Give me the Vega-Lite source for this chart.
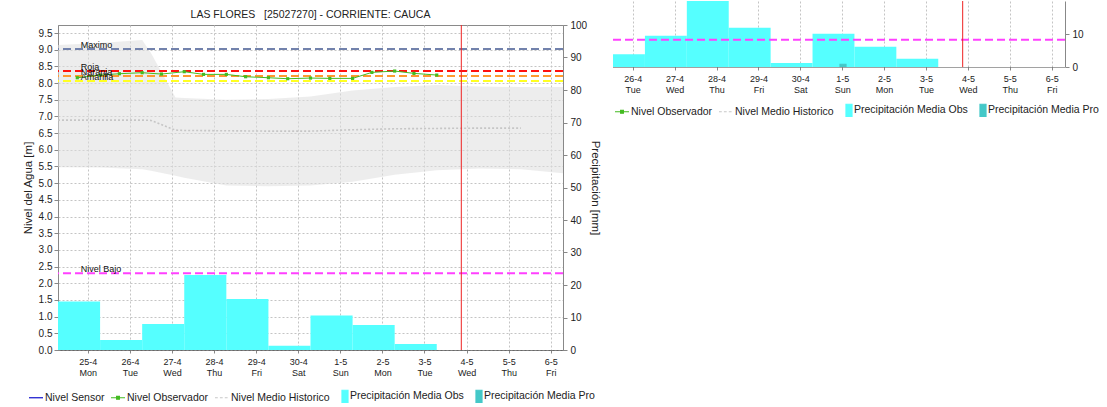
{
  "$schema": "https://vega.github.io/schema/vega-lite/v6.json",
  "padding": {"left": 21, "top": 0, "right": 0, "bottom": 0},
  "spacing": 10,
  "config": {
    "font": "Liberation Sans",
    "view": {"stroke": "#8a8a8a", "strokeWidth": 1},
    "axis": {"labelFont": "Liberation Sans", "titleFont": "Liberation Sans", "labelColor": "#222", "titleColor": "#222", "titleFontWeight": "normal", "tickColor": "#888", "domainColor": "#888", "gridColor": "#c4c4c4", "gridDash": [2, 2], "gridWidth": 1},
    "legend": {"labelFont": "Liberation Sans", "labelFontSize": 10.5, "labelColor": "#222", "padding": 0},
    "text": {"font": "Liberation Sans"}
  },
  "datasets": {
    "precip": [
      {"inicio": "2022-04-24T07:00:00Z", "fin": "2022-04-25T07:00:00Z", "mm": 14.9},
      {"inicio": "2022-04-25T07:00:00Z", "fin": "2022-04-26T07:00:00Z", "mm": 3.1},
      {"inicio": "2022-04-26T07:00:00Z", "fin": "2022-04-27T07:00:00Z", "mm": 8.0},
      {"inicio": "2022-04-27T07:00:00Z", "fin": "2022-04-28T07:00:00Z", "mm": 23.1},
      {"inicio": "2022-04-28T07:00:00Z", "fin": "2022-04-29T07:00:00Z", "mm": 15.7},
      {"inicio": "2022-04-29T07:00:00Z", "fin": "2022-04-30T07:00:00Z", "mm": 1.3},
      {"inicio": "2022-04-30T07:00:00Z", "fin": "2022-05-01T07:00:00Z", "mm": 10.6},
      {"inicio": "2022-05-01T07:00:00Z", "fin": "2022-05-02T07:00:00Z", "mm": 7.7},
      {"inicio": "2022-05-02T07:00:00Z", "fin": "2022-05-03T07:00:00Z", "mm": 1.85}
    ],
    "banda": [
      {"tiempo": "2022-04-24T07:00:00Z", "minimo": 5.48, "maximo": 9.14, "medio": 6.89},
      {"tiempo": "2022-04-25T07:00:00Z", "minimo": 5.47, "maximo": 9.2, "medio": 6.89},
      {"tiempo": "2022-04-26T07:00:00Z", "minimo": 5.42, "maximo": 9.29, "medio": 6.89},
      {"tiempo": "2022-04-26T12:00:00Z", "minimo": 5.37, "maximo": 8.9, "medio": 6.88},
      {"tiempo": "2022-04-27T02:00:00Z", "minimo": 5.22, "maximo": 7.57, "medio": 6.59},
      {"tiempo": "2022-04-27T07:00:00Z", "minimo": 5.16, "maximo": 7.55, "medio": 6.58},
      {"tiempo": "2022-04-28T07:00:00Z", "minimo": 4.93, "maximo": 7.5, "medio": 6.57},
      {"tiempo": "2022-04-29T07:00:00Z", "minimo": 4.91, "maximo": 7.52, "medio": 6.56},
      {"tiempo": "2022-04-30T07:00:00Z", "minimo": 4.93, "maximo": 7.6, "medio": 6.56},
      {"tiempo": "2022-05-01T07:00:00Z", "minimo": 5.04, "maximo": 7.78, "medio": 6.6},
      {"tiempo": "2022-05-02T07:00:00Z", "minimo": 5.25, "maximo": 7.88, "medio": 6.63},
      {"tiempo": "2022-05-03T07:00:00Z", "minimo": 5.39, "maximo": 7.94, "medio": 6.64},
      {"tiempo": "2022-05-04T07:00:00Z", "minimo": 5.44, "maximo": 7.9, "medio": 6.65},
      {"tiempo": "2022-05-05T07:00:00Z", "minimo": 5.42, "maximo": 7.88, "medio": 6.65},
      {"tiempo": "2022-05-06T07:00:00Z", "minimo": 5.3, "maximo": 7.88}
    ],
    "observador": [
      {"tiempo": "2022-04-24T18:00:00Z", "nivel": 8.16},
      {"tiempo": "2022-04-25T07:00:00Z", "nivel": 8.24},
      {"tiempo": "2022-04-25T18:00:00Z", "nivel": 8.28},
      {"tiempo": "2022-04-26T07:00:00Z", "nivel": 8.31},
      {"tiempo": "2022-04-26T18:00:00Z", "nivel": 8.27},
      {"tiempo": "2022-04-27T07:00:00Z", "nivel": 8.34},
      {"tiempo": "2022-04-27T18:00:00Z", "nivel": 8.26},
      {"tiempo": "2022-04-28T07:00:00Z", "nivel": 8.26},
      {"tiempo": "2022-04-28T18:00:00Z", "nivel": 8.19},
      {"tiempo": "2022-04-29T07:00:00Z", "nivel": 8.16},
      {"tiempo": "2022-04-29T18:00:00Z", "nivel": 8.13},
      {"tiempo": "2022-04-30T07:00:00Z", "nivel": 8.15},
      {"tiempo": "2022-04-30T18:00:00Z", "nivel": 8.14},
      {"tiempo": "2022-05-01T07:00:00Z", "nivel": 8.14},
      {"tiempo": "2022-05-01T18:00:00Z", "nivel": 8.32},
      {"tiempo": "2022-05-02T07:00:00Z", "nivel": 8.36},
      {"tiempo": "2022-05-02T18:00:00Z", "nivel": 8.29},
      {"tiempo": "2022-05-03T07:00:00Z", "nivel": 8.24}
    ],
    "umbrales": [
      {"nivel": "Maximo", "valor": 9.02},
      {"nivel": "Roja", "valor": 8.36},
      {"nivel": "Naranja", "valor": 8.21},
      {"nivel": "Amarilla", "valor": 8.06},
      {"nivel": "Nivel Bajo", "valor": 2.3}
    ],
    "ahora": [{"tiempo": "2022-05-03T21:00:00Z"}],
    "leyenda1": [
      {"serie": "Nivel Sensor"},
      {"serie": "Nivel Observador"},
      {"serie": "Nivel Medio Historico"},
      {"serie": "Precipitación Media Obs"},
      {"serie": "Precipitación Media Pro"}
    ],
    "precip2": [
      {"inicio": "2022-04-25T07:00:00Z", "fin": "2022-04-26T07:00:00Z", "mm": 3.9},
      {"inicio": "2022-04-26T07:00:00Z", "fin": "2022-04-27T07:00:00Z", "mm": 9.6},
      {"inicio": "2022-04-27T07:00:00Z", "fin": "2022-04-28T07:00:00Z", "mm": 24.0},
      {"inicio": "2022-04-28T07:00:00Z", "fin": "2022-04-29T07:00:00Z", "mm": 12.0},
      {"inicio": "2022-04-29T07:00:00Z", "fin": "2022-04-30T07:00:00Z", "mm": 1.2},
      {"inicio": "2022-04-30T07:00:00Z", "fin": "2022-05-01T07:00:00Z", "mm": 10.2},
      {"inicio": "2022-05-01T07:00:00Z", "fin": "2022-05-02T07:00:00Z", "mm": 6.2},
      {"inicio": "2022-05-02T07:00:00Z", "fin": "2022-05-03T07:00:00Z", "mm": 2.5}
    ],
    "bajo2": [{"nivel": "Nivel Bajo", "valor": 8.35}],
    "leyenda2": [
      {"serie": "Nivel Observador"},
      {"serie": "Nivel Medio Historico"},
      {"serie": "Precipitación Media Obs"},
      {"serie": "Precipitación Media Pro"}
    ]
  },
  "resolve": {"scale": {"color": "independent", "stroke": "independent", "shape": "independent"}},
  "hconcat": [
    {
      "spacing": 0,
      "resolve": {"scale": {"color": "independent", "stroke": "independent", "shape": "independent"}},
      "vconcat": [
        {
          "width": 1,
          "height": 0.001,
          "view": {"stroke": null},
          "data": {"values": []},
          "mark": "point",
          "encoding": {}
        },
        {
          "width": 505,
          "height": 325,
          "title": {"text": ["", "LAS FLORES\u00a0\u00a0 [25027270] - CORRIENTE: CAUCA"], "fontSize": 10.5, "fontWeight": "normal", "font": "Liberation Sans", "color": "#222", "lineHeight": 7, "frame": "group", "anchor": "middle", "offset": -10, "baseline": "bottom"},
          "resolve": {"scale": {"y": "independent"}},
          "layer": [
            {
              "data": {"name": "precip"},
              "mark": {"type": "rect", "color": "#55ffff"},
              "encoding": {
                "x": {"field": "inicio", "type": "temporal", "title": null, "scale": {"type": "utc", "domain": [{"year": 2022, "month": 4, "date": 24, "hours": 7, "utc": true}, {"year": 2022, "month": 5, "date": 6, "hours": 7, "utc": true}]},
                  "axis": {"orient": "bottom", "title": null, "values": [
                    {"year": 2022, "month": 4, "date": 25, "utc": true}, {"year": 2022, "month": 4, "date": 26, "utc": true}, {"year": 2022, "month": 4, "date": 27, "utc": true}, {"year": 2022, "month": 4, "date": 28, "utc": true}, {"year": 2022, "month": 4, "date": 29, "utc": true}, {"year": 2022, "month": 4, "date": 30, "utc": true}, {"year": 2022, "month": 5, "date": 1, "utc": true}, {"year": 2022, "month": 5, "date": 2, "utc": true}, {"year": 2022, "month": 5, "date": 3, "utc": true}, {"year": 2022, "month": 5, "date": 4, "utc": true}, {"year": 2022, "month": 5, "date": 5, "utc": true}, {"year": 2022, "month": 5, "date": 6, "utc": true}],
                    "labelExpr": "[utcFormat(datum.value, '%-d-%-m'), utcFormat(datum.value, '%a')]", "labelFontSize": 9, "labelLineHeight": 11, "labelAngle": 0, "labelFlush": false, "labelOverlap": false, "tickSize": 3, "labelPadding": 4, "grid": true, "domainDash": [1, 1], "domainColor": "#444"}},
                "x2": {"field": "fin"},
                "y": {"field": "mm", "type": "quantitative", "title": "Precipitación [mm]", "scale": {"domain": [0, 100], "nice": false},
                  "axis": {"orient": "right", "values": [0, 10, 20, 30, 40, 50, 60, 70, 80, 90, 100], "labelFontSize": 10, "tickSize": 4, "labelPadding": 3, "grid": false, "titleFontSize": 11.5, "titleAngle": 90, "titlePadding": 3}},
                "y2": {"datum": 0}
              }
            },
            {
              "layer": [
                {
                  "data": {"name": "banda"},
                  "mark": {"type": "area", "color": "#dedede", "opacity": 0.55},
                  "encoding": {
                    "x": {"field": "tiempo", "type": "temporal", "title": null, "scale": {"type": "utc"}},
                    "y": {"field": "minimo", "type": "quantitative", "title": "Nivel del Agua [m]", "scale": {"domain": [0, 9.74], "nice": false},
                      "axis": {"orient": "left", "values": [0, 0.5, 1, 1.5, 2, 2.5, 3, 3.5, 4, 4.5, 5, 5.5, 6, 6.5, 7, 7.5, 8, 8.5, 9, 9.5], "format": ".1f", "labelFontSize": 10, "labelOverlap": false, "tickSize": 4, "labelPadding": 2, "grid": true, "titleFontSize": 11.5, "titlePadding": 5}},
                    "y2": {"field": "maximo", "title": "Nivel del Agua [m]"}
                  }
                },
                {
                  "data": {"name": "banda"},
                  "mark": {"type": "line", "color": "#c6c6c6", "strokeWidth": 1.6, "strokeDash": [2, 2]},
                  "encoding": {
                    "x": {"field": "tiempo", "type": "temporal", "title": null, "scale": {"type": "utc"}},
                    "y": {"field": "medio", "type": "quantitative", "title": "Nivel del Agua [m]", "scale": {"domain": [0, 9.74], "nice": false},
                      "axis": {"orient": "left", "values": [0, 0.5, 1, 1.5, 2, 2.5, 3, 3.5, 4, 4.5, 5, 5.5, 6, 6.5, 7, 7.5, 8, 8.5, 9, 9.5], "format": ".1f", "labelFontSize": 10, "labelOverlap": false, "tickSize": 4, "labelPadding": 2, "grid": true, "titleFontSize": 11.5, "titlePadding": 5}}
                  }
                },
                {
                  "data": {"name": "umbrales"},
                  "transform": [{"filter": "datum.nivel == 'Maximo'"}],
                  "mark": {"type": "rule", "color": "#7282ac", "strokeWidth": 2, "strokeDash": [8, 4]},
                  "encoding": {"y": {"field": "valor", "type": "quantitative", "title": "Nivel del Agua [m]", "scale": {"domain": [0, 9.74], "nice": false},
                      "axis": {"orient": "left", "values": [0, 0.5, 1, 1.5, 2, 2.5, 3, 3.5, 4, 4.5, 5, 5.5, 6, 6.5, 7, 7.5, 8, 8.5, 9, 9.5], "format": ".1f", "labelFontSize": 10, "labelOverlap": false, "tickSize": 4, "labelPadding": 2, "grid": true, "titleFontSize": 11.5, "titlePadding": 5}}}
                },
                {
                  "data": {"name": "umbrales"},
                  "transform": [{"filter": "datum.nivel == 'Amarilla'"}],
                  "mark": {"type": "rule", "color": "#ffff22", "strokeWidth": 2, "strokeDash": [8, 4]},
                  "encoding": {"y": {"field": "valor", "type": "quantitative", "title": "Nivel del Agua [m]", "scale": {"domain": [0, 9.74], "nice": false},
                      "axis": {"orient": "left", "values": [0, 0.5, 1, 1.5, 2, 2.5, 3, 3.5, 4, 4.5, 5, 5.5, 6, 6.5, 7, 7.5, 8, 8.5, 9, 9.5], "format": ".1f", "labelFontSize": 10, "labelOverlap": false, "tickSize": 4, "labelPadding": 2, "grid": true, "titleFontSize": 11.5, "titlePadding": 5}}}
                },
                {
                  "data": {"name": "umbrales"},
                  "transform": [{"filter": "datum.nivel == 'Naranja'"}],
                  "mark": {"type": "rule", "color": "#ff9a30", "strokeWidth": 2, "strokeDash": [8, 4]},
                  "encoding": {"y": {"field": "valor", "type": "quantitative", "title": "Nivel del Agua [m]", "scale": {"domain": [0, 9.74], "nice": false},
                      "axis": {"orient": "left", "values": [0, 0.5, 1, 1.5, 2, 2.5, 3, 3.5, 4, 4.5, 5, 5.5, 6, 6.5, 7, 7.5, 8, 8.5, 9, 9.5], "format": ".1f", "labelFontSize": 10, "labelOverlap": false, "tickSize": 4, "labelPadding": 2, "grid": true, "titleFontSize": 11.5, "titlePadding": 5}}}
                },
                {
                  "data": {"name": "umbrales"},
                  "transform": [{"filter": "datum.nivel == 'Roja'"}],
                  "mark": {"type": "rule", "color": "#ff1010", "strokeWidth": 2, "strokeDash": [8, 4]},
                  "encoding": {"y": {"field": "valor", "type": "quantitative", "title": "Nivel del Agua [m]", "scale": {"domain": [0, 9.74], "nice": false},
                      "axis": {"orient": "left", "values": [0, 0.5, 1, 1.5, 2, 2.5, 3, 3.5, 4, 4.5, 5, 5.5, 6, 6.5, 7, 7.5, 8, 8.5, 9, 9.5], "format": ".1f", "labelFontSize": 10, "labelOverlap": false, "tickSize": 4, "labelPadding": 2, "grid": true, "titleFontSize": 11.5, "titlePadding": 5}}}
                },
                {
                  "data": {"name": "umbrales"},
                  "transform": [{"filter": "datum.nivel == 'Nivel Bajo'"}],
                  "mark": {"type": "rule", "color": "#ff40ff", "strokeWidth": 2, "strokeDash": [8, 4]},
                  "encoding": {"y": {"field": "valor", "type": "quantitative", "title": "Nivel del Agua [m]", "scale": {"domain": [0, 9.74], "nice": false},
                      "axis": {"orient": "left", "values": [0, 0.5, 1, 1.5, 2, 2.5, 3, 3.5, 4, 4.5, 5, 5.5, 6, 6.5, 7, 7.5, 8, 8.5, 9, 9.5], "format": ".1f", "labelFontSize": 10, "labelOverlap": false, "tickSize": 4, "labelPadding": 2, "grid": true, "titleFontSize": 11.5, "titlePadding": 5}}}
                },
                {
                  "data": {"name": "observador"},
                  "mark": {"type": "line", "color": "#44bb22", "strokeWidth": 1, "point": {"filled": true, "shape": "square", "size": 10, "color": "#44bb22"}},
                  "encoding": {
                    "x": {"field": "tiempo", "type": "temporal", "title": null, "scale": {"type": "utc"}},
                    "y": {"field": "nivel", "type": "quantitative", "title": "Nivel del Agua [m]", "scale": {"domain": [0, 9.74], "nice": false},
                      "axis": {"orient": "left", "values": [0, 0.5, 1, 1.5, 2, 2.5, 3, 3.5, 4, 4.5, 5, 5.5, 6, 6.5, 7, 7.5, 8, 8.5, 9, 9.5], "format": ".1f", "labelFontSize": 10, "labelOverlap": false, "tickSize": 4, "labelPadding": 2, "grid": true, "titleFontSize": 11.5, "titlePadding": 5}}
                  }
                },
                {
                  "data": {"name": "umbrales"},
                  "mark": {"type": "text", "align": "left", "baseline": "alphabetic", "dy": -1.5, "fontSize": 9, "color": "#111"},
                  "encoding": {
                    "x": {"datum": {"year": 2022, "month": 4, "date": 24, "hours": 20, "utc": true}, "type": "temporal", "title": null, "scale": {"type": "utc"}},
                    "y": {"field": "valor", "type": "quantitative", "title": "Nivel del Agua [m]", "scale": {"domain": [0, 9.74], "nice": false},
                      "axis": {"orient": "left", "values": [0, 0.5, 1, 1.5, 2, 2.5, 3, 3.5, 4, 4.5, 5, 5.5, 6, 6.5, 7, 7.5, 8, 8.5, 9, 9.5], "format": ".1f", "labelFontSize": 10, "labelOverlap": false, "tickSize": 4, "labelPadding": 2, "grid": true, "titleFontSize": 11.5, "titlePadding": 5}},
                    "text": {"field": "nivel"}
                  }
                },
                {
                  "data": {"name": "ahora"},
                  "mark": {"type": "rule", "color": "#ee2222", "strokeWidth": 1},
                  "encoding": {"x": {"field": "tiempo", "type": "temporal", "title": null, "scale": {"type": "utc"}}}
                },
                {
                  "data": {"name": "leyenda1"},
                  "mark": {"type": "point", "filled": true, "clip": true, "size": 196, "strokeWidth": 1.2, "opacity": 1},
                  "encoding": {
                    "y": {"datum": -1, "type": "quantitative", "title": "Nivel del Agua [m]", "scale": {"domain": [0, 9.74], "nice": false},
                      "axis": {"orient": "left", "values": [0, 0.5, 1, 1.5, 2, 2.5, 3, 3.5, 4, 4.5, 5, 5.5, 6, 6.5, 7, 7.5, 8, 8.5, 9, 9.5], "format": ".1f", "labelFontSize": 10, "labelOverlap": false, "tickSize": 4, "labelPadding": 2, "grid": true, "titleFontSize": 11.5, "titlePadding": 5}},
                    "color": {"field": "serie", "type": "nominal", "title": null,
                      "scale": {"domain": ["Nivel Sensor", "Nivel Observador", "Nivel Medio Historico", "Precipitación Media Obs", "Precipitación Media Pro"], "range": ["#1010cc", "#44bb22", "#c8c8c8", "#55ffff", "#44c8c8"]},
                      "legend": {"orient": "none", "legendX": -30, "legendY": 363, "direction": "horizontal", "title": null, "symbolSize": 196, "symbolStrokeWidth": 1.2, "labelOffset": 1, "columnPadding": 3, "labelFontSize": 10.5}},
                    "stroke": {"field": "serie", "type": "nominal", "title": null,
                      "scale": {"domain": ["Nivel Sensor", "Nivel Observador", "Nivel Medio Historico", "Precipitación Media Obs", "Precipitación Media Pro"], "range": ["#1010cc", "#44bb22", "#c8c8c8", "#55ffff", "#44c8c8"]},
                      "legend": {"orient": "none", "legendX": -30, "legendY": 363, "direction": "horizontal", "title": null, "symbolSize": 196, "symbolStrokeWidth": 1.2, "labelOffset": 1, "columnPadding": 3, "labelFontSize": 10.5}},
                    "shape": {"field": "serie", "type": "nominal", "title": null,
                      "scale": {"domain": ["Nivel Sensor", "Nivel Observador", "Nivel Medio Historico", "Precipitación Media Obs", "Precipitación Media Pro"], "range": ["M-1,0H1", "M-1,0H1M-0.2,-0.2H0.2V0.2H-0.2Z", "M-1,0H-0.6M-0.3,0H0.1M0.4,0H0.8", "M0.14,-0.86H1V0.86H0.14Z", "M0.14,-0.86H1V0.86H0.14Z"]},
                      "legend": {"orient": "none", "legendX": -30, "legendY": 363, "direction": "horizontal", "title": null, "symbolSize": 196, "symbolStrokeWidth": 1.2, "labelOffset": 1, "columnPadding": 3, "labelFontSize": 10.5}}
                  }
                }
              ]
            }
          ]
        }
      ]
    },
    {
      "width": 452,
      "height": 66,
      "view": {"stroke": null},
      "layer": [
        {
          "data": {"name": "precip2"},
          "mark": {"type": "rect", "color": "#55ffff", "clip": true},
          "encoding": {
            "x": {"field": "inicio", "type": "temporal", "title": null, "scale": {"type": "utc", "domain": [{"year": 2022, "month": 4, "date": 25, "hours": 12, "minutes": 43, "utc": true}, {"year": 2022, "month": 5, "date": 6, "hours": 7, "minutes": 36, "utc": true}]},
              "axis": {"orient": "bottom", "title": null, "values": [
                {"year": 2022, "month": 4, "date": 26, "utc": true}, {"year": 2022, "month": 4, "date": 27, "utc": true}, {"year": 2022, "month": 4, "date": 28, "utc": true}, {"year": 2022, "month": 4, "date": 29, "utc": true}, {"year": 2022, "month": 4, "date": 30, "utc": true}, {"year": 2022, "month": 5, "date": 1, "utc": true}, {"year": 2022, "month": 5, "date": 2, "utc": true}, {"year": 2022, "month": 5, "date": 3, "utc": true}, {"year": 2022, "month": 5, "date": 4, "utc": true}, {"year": 2022, "month": 5, "date": 5, "utc": true}, {"year": 2022, "month": 5, "date": 6, "utc": true}],
                "labelExpr": "[utcFormat(datum.value, '%-d-%-m'), utcFormat(datum.value, '%a')]", "labelFontSize": 9, "labelLineHeight": 11, "labelAngle": 0, "labelFlush": false, "labelOverlap": false, "tickSize": 3, "labelPadding": 4, "grid": true, "domainDash": [1, 1], "domainColor": "#444"}},
            "x2": {"field": "fin"},
            "y": {"field": "mm", "type": "quantitative", "title": null, "scale": {"domain": [0, 20.2], "nice": false},
              "axis": {"orient": "right", "values": [0, 10], "labelFontSize": 10, "tickSize": 4, "labelPadding": 3, "grid": false, "title": null}},
            "y2": {"datum": 0}
          }
        },
        {
          "data": {"name": "bajo2"},
          "mark": {"type": "rule", "color": "#ff40ff", "strokeWidth": 2, "strokeDash": [8, 4]},
          "encoding": {"y": {"field": "valor", "type": "quantitative", "title": null, "scale": {"domain": [0, 20.2], "nice": false}}}
        },
        {
          "data": {"name": "ahora"},
          "mark": {"type": "rule", "color": "#ee2222", "strokeWidth": 1},
          "encoding": {"x": {"field": "tiempo", "type": "temporal", "title": null, "scale": {"type": "utc"}}}
        },
        {
          "data": {"name": "leyenda2"},
          "mark": {"type": "point", "filled": true, "clip": true, "size": 196, "strokeWidth": 1.2, "opacity": 1},
          "encoding": {
            "y": {"datum": -1, "type": "quantitative", "title": null, "scale": {"domain": [0, 20.2], "nice": false}},
            "color": {"field": "serie", "type": "nominal", "title": null,
              "scale": {"domain": ["Nivel Observador", "Nivel Medio Historico", "Precipitación Media Obs", "Precipitación Media Pro"], "range": ["#44bb22", "#c8c8c8", "#55ffff", "#44c8c8"]},
              "legend": {"orient": "none", "legendX": 1, "legendY": 101, "direction": "horizontal", "title": null, "symbolSize": 196, "symbolStrokeWidth": 1.2, "labelOffset": 1, "columnPadding": 3, "labelFontSize": 10.5}},
            "stroke": {"field": "serie", "type": "nominal", "title": null,
              "scale": {"domain": ["Nivel Observador", "Nivel Medio Historico", "Precipitación Media Obs", "Precipitación Media Pro"], "range": ["#44bb22", "#c8c8c8", "#55ffff", "#44c8c8"]},
              "legend": {"orient": "none", "legendX": 1, "legendY": 101, "direction": "horizontal", "title": null, "symbolSize": 196, "symbolStrokeWidth": 1.2, "labelOffset": 1, "columnPadding": 3, "labelFontSize": 10.5}},
            "shape": {"field": "serie", "type": "nominal", "title": null,
              "scale": {"domain": ["Nivel Observador", "Nivel Medio Historico", "Precipitación Media Obs", "Precipitación Media Pro"], "range": ["M-1,0H1M-0.2,-0.2H0.2V0.2H-0.2Z", "M-1,0H-0.6M-0.3,0H0.1M0.4,0H0.8", "M0.14,-0.86H1V0.86H0.14Z", "M0.14,-0.86H1V0.86H0.14Z"]},
              "legend": {"orient": "none", "legendX": 1, "legendY": 101, "direction": "horizontal", "title": null, "symbolSize": 196, "symbolStrokeWidth": 1.2, "labelOffset": 1, "columnPadding": 3, "labelFontSize": 10.5}}
          }
        }
      ]
    }
  ]
}
